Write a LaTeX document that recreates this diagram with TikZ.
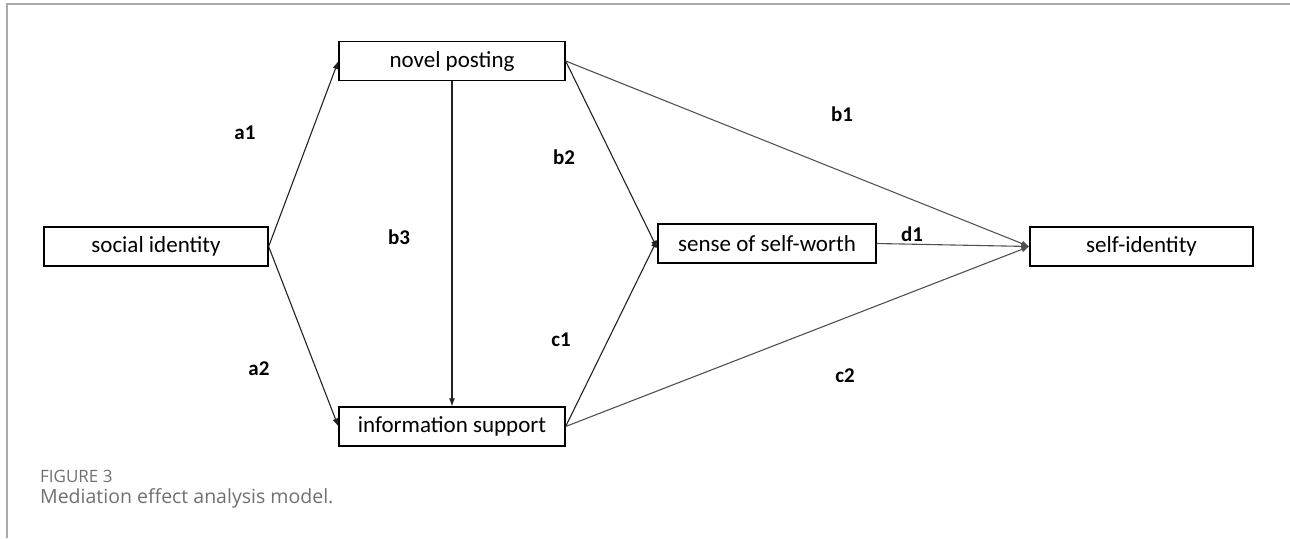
\documentclass[tikz,border=0pt]{standalone}
\usepackage{fontspec}
\setmainfont{Carlito}
\newfontfamily\capfont{Open Sans}
\usetikzlibrary{arrows.meta}
\definecolor{framegray}{HTML}{AAAAAA}
\definecolor{capgray}{HTML}{707070}
\definecolor{darkline}{HTML}{222222}
\definecolor{linegray}{HTML}{505050}
\begin{document}
\begin{tikzpicture}[x=1pt,y=-1pt,
  varbox/.style={draw=black,line width=1.3pt,minimum height=39pt,inner sep=0pt,font=\fontsize{23}{27}\selectfont},
  conn/.style={draw=darkline,line width=1.1pt,-{Latex[length=8pt,width=6pt]}},
  connl/.style={conn,draw=linegray},
  lbl/.style={font=\fontsize{21}{24}\selectfont\bfseries,inner sep=0pt}]
\useasboundingbox (0,0) rectangle (1290,538);
\draw[framegray,line width=2pt] (1290,4) -- (7,4) -- (7,538);
\node[varbox,minimum width=224pt] (si) at (156,246.5) {social identity};
\node[varbox,minimum width=226pt] (np) at (452,61) {novel posting};
\node[varbox,minimum width=226pt] (is) at (452,426.5) {information support};
\node[varbox,minimum width=218pt] (sw) at (767,243.5) {sense of self-worth};
\node[varbox,minimum width=223pt] (sid) at (1141.5,246.5) {self-identity};
\draw[conn] (si.east) -- (np.west);
\draw[conn] (si.east) -- (is.west);
\draw[conn] (np.south) -- (is.north);
\draw[conn] (np.east) -- ([yshift=-5pt]sw.west);
\draw[conn] (is.east) -- ([yshift=4pt]sw.west);
\draw[connl] (np.east) -- (sid.west);
\draw[connl] (sw.east) -- (sid.west);
\draw[connl] (is.east) -- (sid.west);
\node[lbl] (la1) at (245,133) {a1};
\node[lbl] (la2) at (259,369) {a2};
\node[lbl] (lb3) at (399,237) {b3};
\node[lbl] (lb2) at (564,157) {b2};
\node[lbl] (lc1) at (561,340) {c1};
\node[lbl] (lb1) at (842,114) {b1};
\node[lbl] (ld1) at (912,234) {d1};
\node[lbl] (lc2) at (845,376) {c2};
\node[anchor=base west,inner sep=0pt,text=capgray,font=\capfont\fontsize{17}{20}\selectfont] (fig) at (40,482) {FIGURE 3};
\node[anchor=base west,inner sep=0pt,text=capgray,font=\capfont\fontsize{19.5}{22}\selectfont] (cap) at (40,503) {Mediation effect analysis model.};
\end{tikzpicture}
\end{document}
